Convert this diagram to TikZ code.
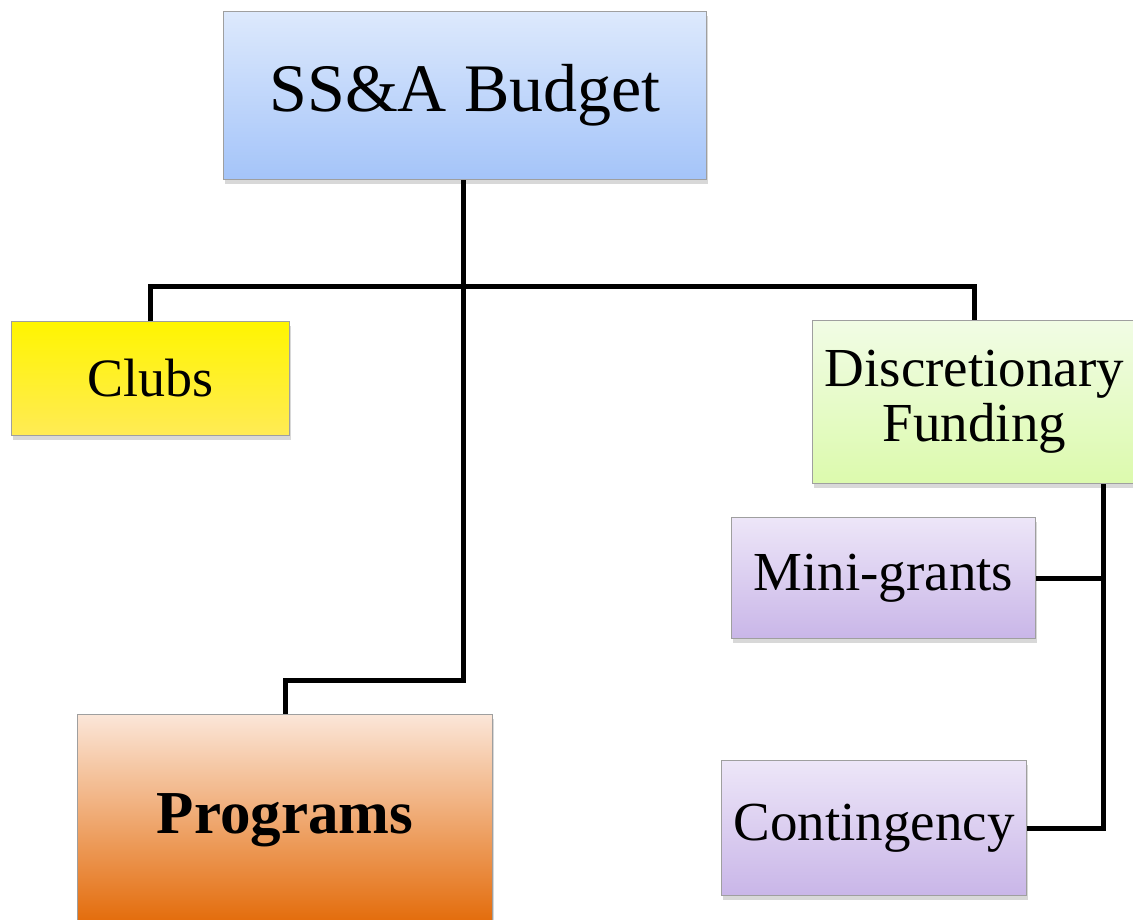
\documentclass[tikz,border=0pt]{standalone}
\usepackage{fontspec}
\setmainfont{Liberation Serif}
\usetikzlibrary{shadows,calc}
\definecolor{blueT}{HTML}{DDE9FC}
\definecolor{blueB}{HTML}{A4C4F9}
\definecolor{yelT}{HTML}{FFF500}
\definecolor{yelB}{HTML}{FFEB55}
\definecolor{grnT}{HTML}{F1FCE5}
\definecolor{grnB}{HTML}{DCFAAD}
\definecolor{purT}{HTML}{EDE6F8}
\definecolor{purB}{HTML}{C9B6E8}
\definecolor{orgT}{HTML}{FBE6D8}
\definecolor{orgB}{HTML}{E36A08}
\tikzset{
  box/.style={draw=gray!75, line width=1pt, inner sep=0pt, anchor=north west,
    align=center, text=black,
    drop shadow={opacity=0.3, shadow xshift=1pt, shadow yshift=-4pt}},
  conn/.style={draw=black, line width=5pt, line join=miter}
}
\begin{document}
\begin{tikzpicture}[x=1pt,y=-1pt]
\useasboundingbox (0,0) rectangle (1133,919);
\clip (0,0) rectangle (1133,919);
\fill[white] (0,0) rectangle (1133,919);

\node[box, top color=blueT, bottom color=blueB, minimum width=483pt, minimum height=168pt,
  font=\fontsize{68}{70}\selectfont] (top) at (223,11) {SS\&A Budget};
\node[box, top color=yelT, bottom color=yelB, minimum width=278pt, minimum height=114pt,
  font=\fontsize{54}{56}\selectfont] (clubs) at (11,321) {Clubs};
\node[box, top color=grnT, bottom color=grnB, minimum width=324pt, minimum height=163pt,
  font=\fontsize{55}{55}\selectfont] (disc) at (812,320) {Discretionary\\Funding};
\node[box, top color=purT, bottom color=purB, minimum width=304pt, minimum height=121pt,
  font=\fontsize{55}{56}\selectfont] (mini) at (731,517) {Mini-grants};
\node[box, top color=purT, bottom color=purB, minimum width=305pt, minimum height=135pt,
  font=\fontsize{55}{56}\selectfont] (cont) at (721,760) {Contingency};
\node[box, top color=orgT, bottom color=orgB, minimum width=415pt, minimum height=211pt,
  font=\fontsize{61}{63}\selectfont\bfseries] (prog) at (77,714) {Programs};

\coordinate (bar) at (463,286);
\coordinate (pk) at (463,680);
\coordinate (j) at (1103,577);

\draw[conn] (top.south -| bar) -- (pk) -| (prog.north);
\draw[conn] (clubs.north) |- (disc.north |- bar) -- (disc.north);
\draw[conn] (disc.south -| j) -- (j |- cont.east) -- (cont.east);
\draw[conn] (mini.east) -- (mini.east -| j);
\end{tikzpicture}
\end{document}
